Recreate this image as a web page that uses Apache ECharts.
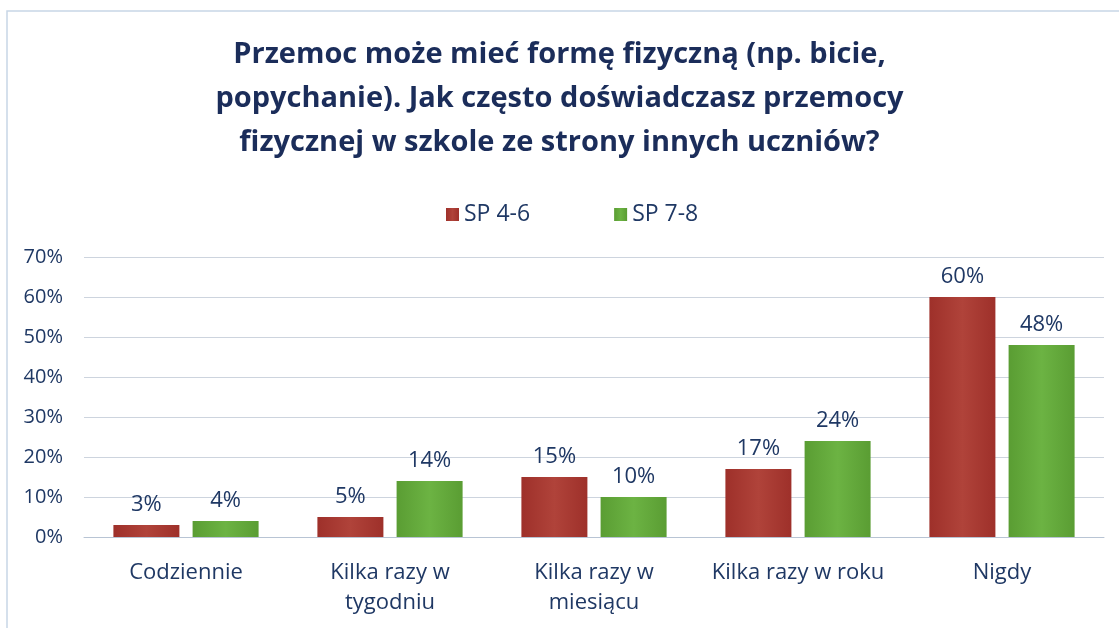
<!DOCTYPE html>
<html>
<head>
<meta charset="utf-8">
<script src="https://cdn.jsdelivr.net/npm/echarts@6/dist/echarts.min.js"></script>
<style>
  html, body { margin: 0; padding: 0; background: #fff; }
  #main { width: 1119px; height: 628px; }
</style>
</head>
<body>
<div id="main"></div>
<script>
// dane z wykresu
var categories = ['Codziennie', 'Kilka razy w\ntygodniu', 'Kilka razy w\nmiesiącu', 'Kilka razy w roku', 'Nigdy'];
var sp46 = [3, 5, 15, 17, 60];
var sp78 = [4, 14, 10, 24, 48];
var yTicks = [0, 10, 20, 30, 40, 50, 60, 70];

var navy = '#1f3864';
var font = 'Open Sans';

var chart = echarts.init(document.getElementById('main'));

function bar(name, data, top, bottom) {
    return {
        name: name,
        type: 'bar',
        data: data,
        barWidth: 66,
        barGap: '20%',
        itemStyle: {
            color: new echarts.graphic.LinearGradient(0, 0, 1, 0, [
                { offset: 0, color: top },
                { offset: 0.5, color: bottom },
                { offset: 1, color: top }
            ])
        },
        label: {
            show: true,
            position: 'top',
            distance: 9,
            formatter: '{c}%',
            color: navy,
            fontFamily: font,
            fontSize: 22
        }
    };
}

var option = {
    animation: false,
    backgroundColor: '#fff',
    title: {
        text: 'Przemoc może mieć formę fizyczną (np. bicie,\npopychanie). Jak często doświadczasz przemocy\nfizycznej w szkole ze strony innych uczniów?',
        left: 'center',
        top: 28,
        textStyle: {
            color: '#1b2d5a',
            fontFamily: font,
            fontWeight: 'bold',
            fontSize: 29,
            lineHeight: 44
        }
    },
    legend: {
        top: 198,
        left: 441,
        itemWidth: 13,
        itemHeight: 13,
        itemGap: 84,
        icon: 'rect',
        textStyle: { color: navy, fontFamily: font, fontSize: 23 },
        data: ['SP 4-6', 'SP 7-8']
    },
    grid: { left: 84, right: 15, top: 257, bottom: 91 },
    xAxis: {
        type: 'category',
        data: categories,
        axisTick: { show: false },
        axisLine: { lineStyle: { color: '#b8c4d4' } },
        axisLabel: {
            color: navy,
            fontFamily: font,
            fontSize: 22,
            lineHeight: 30,
            margin: 21,
            interval: 0
        }
    },
    yAxis: {
        type: 'value',
        min: yTicks[0],
        max: yTicks[yTicks.length - 1],
        interval: 10,
        axisLine: { show: false },
        axisTick: { show: false },
        axisLabel: {
            color: navy,
            fontFamily: font,
            fontSize: 20,
            margin: 21,
            formatter: '{value}%'
        },
        splitLine: { lineStyle: { color: '#cdd4de', width: 1 } }
    },
    graphic: [{
        type: 'rect',
        shape: { x: 7, y: 11, width: 1130, height: 640 },
        style: { fill: 'none', stroke: '#c8d6e6', lineWidth: 1.5 }
    }],
    series: [
        bar('SP 4-6', sp46, '#9e302a', '#b0433a'),
        bar('SP 7-8', sp78, '#5a9d33', '#6cb343')
    ]
};

chart.setOption(option);
</script>
</body>
</html>
